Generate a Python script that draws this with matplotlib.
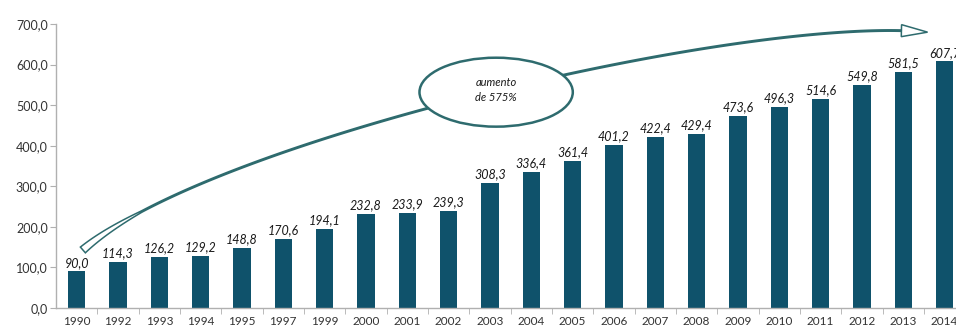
import numpy as np
import matplotlib.pyplot as plt
from matplotlib.patches import Ellipse, Polygon
from matplotlib.transforms import IdentityTransform
from matplotlib.ticker import FixedLocator, FuncFormatter

plt.rcParams['font.family'] = ['Lato', 'DejaVu Sans']

anos = ['1990', '1992', '1993', '1994', '1995', '1997', '1999', '2000', '2001',
        '2002', '2003', '2004', '2005', '2006', '2007', '2008', '2009', '2010',
        '2011', '2012', '2013', '2014']
valores = [90.0, 114.3, 126.2, 129.2, 148.8, 170.6, 194.1, 232.8, 233.9,
           239.3, 308.3, 336.4, 361.4, 401.2, 422.4, 429.4, 473.6, 496.3,
           514.6, 549.8, 581.5, 607.7]

cor_barra = '#0f526b'
cor_seta = '#2e6b6e'

fig = plt.figure(figsize=(9.56, 3.34), dpi=100)
ax = fig.add_axes([0.0586, 0.078, 0.951, 0.85])

x = np.arange(len(anos))
ax.bar(x, valores, width=0.42, color=cor_barra, zorder=2)

for xi, v in zip(x, valores):
    ax.annotate(f'{v:.1f}'.replace('.', ','), (xi, v), xytext=(0, 2),
                textcoords='offset points', ha='center', va='bottom',
                fontsize=9, style='italic', color='#1a1a1a')

ax.set_xlim(-0.5, len(anos) - 0.5)
ax.set_ylim(0, 700)
ax.set_yticks(range(0, 701, 100))
ax.yaxis.set_major_formatter(FuncFormatter(lambda v, p: f'{v:.1f}'.replace('.', ',')))
ax.set_xticks(x)
ax.set_xticklabels(anos)
ax.xaxis.set_minor_locator(FixedLocator(x + 0.5))
ax.tick_params(axis='x', which='major', length=0, pad=6, labelsize=8.5, labelcolor='#333333')
ax.tick_params(axis='x', which='minor', length=4, color='#b0b0b0', direction='out')
ax.tick_params(axis='y', length=4, color='#b0b0b0', labelsize=9, labelcolor='#333333', pad=2)

for s in ['top', 'right']:
    ax.spines[s].set_visible(False)
for s in ['left', 'bottom']:
    ax.spines[s].set_color('#b0b0b0')
    ax.spines[s].set_linewidth(1)

# curved hollow arrow 1990 -> 2014, built as an outline around a cubic bezier
ctrl = np.array([(0.15, 143), (3.2, 415), (16.3, 723), (20.59, 680)])
P = ax.transData.transform(ctrl)
t = np.linspace(0, 1, 400)[:, None]
c = ((1 - t) ** 3) * P[0] + 3 * (1 - t) ** 2 * t * P[1] + 3 * (1 - t) * t ** 2 * P[2] + t ** 3 * P[3]
d = np.gradient(c, axis=0)
d /= np.linalg.norm(d, axis=1)[:, None]
n = np.column_stack([-d[:, 1], d[:, 0]])
s = np.concatenate([[0], np.cumsum(np.linalg.norm(np.diff(c, axis=0), axis=1))])
comp = s[-1]
corpo = s <= comp - 26
w = np.interp(s, [0, 70, comp], [3.8, 0.7, 0.7])[:, None]
esq = c[corpo] + n[corpo] * w[corpo]
dir_ = c[corpo] - n[corpo] * w[corpo]
base, nb = c[corpo][-1], n[corpo][-1]
contorno = np.vstack([esq, base + nb * 6, c[-1], base - nb * 6, dir_[::-1]])
ax.add_patch(Polygon(contorno, closed=True, transform=IdentityTransform(),
                     facecolor='white', edgecolor=cor_seta, linewidth=1.1,
                     joinstyle='miter', clip_on=False, zorder=3))

balao = Ellipse((10.15, 532), width=3.71, height=170, facecolor='white',
                edgecolor=cor_seta, linewidth=1.8, zorder=4)
ax.add_patch(balao)
ax.text(10.15, 537, 'aumento\nde 575%', ha='center', va='center', fontsize=8,
        style='italic', color='#1a1a1a', linespacing=1.5, zorder=5)

fig.savefig('out.png', dpi=100)
